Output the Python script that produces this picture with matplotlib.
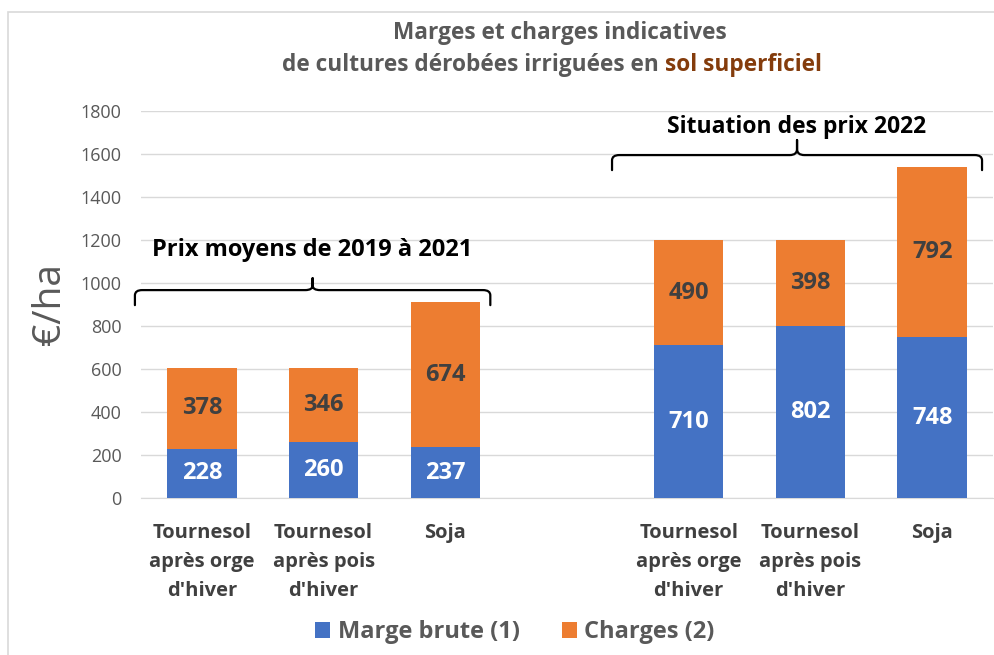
import matplotlib
matplotlib.use("Agg")
import matplotlib.pyplot as plt
from matplotlib.patches import Rectangle, PathPatch
from matplotlib.path import Path
import numpy as np

plt.rcParams['font.family'] = ['Open Sans', 'DejaVu Sans']

categories = ["Tournesol\naprès orge\nd'hiver", "Tournesol\naprès pois\nd'hiver", "Soja", "",
              "Tournesol\naprès orge\nd'hiver", "Tournesol\naprès pois\nd'hiver", "Soja"]
marge_brute = [228, 260, 237, None, 710, 802, 748]
charges = [378, 346, 674, None, 490, 398, 792]
series_names = ["Marge brute (1)", "Charges (2)"]
y_ticks = [0, 200, 400, 600, 800, 1000, 1200, 1400, 1600, 1800]
group_labels = ["Prix moyens de 2019 à 2021", "Situation des prix 2022"]

BLUE = "#4472C4"
ORANGE = "#ED7D31"
GRAY = "#595959"
DARK = "#404040"

W, H = 995, 655
fig = plt.figure(figsize=(W / 100, H / 100), dpi=100)

def fx(px):
    return px / W

def fy(py):
    return 1 - py / H

# chart border
fig.patches.append(Rectangle((fx(8), fy(700)), fx(1100), fy(12) - fy(700),
                             transform=fig.transFigure, fill=False,
                             edgecolor="#D9D9D9", linewidth=1.2))

ax = fig.add_axes([fx(141), fy(498), fx(993) - fx(141), fy(111) - fy(498)])

x = np.arange(len(categories))
idx = [i for i, v in enumerate(marge_brute) if v is not None]
mb = np.array([marge_brute[i] for i in idx])
ch = np.array([charges[i] for i in idx])
xi = x[idx]
bw = 0.57
b1 = ax.bar(xi, mb, bw, color=BLUE, label=series_names[0], zorder=3)
b2 = ax.bar(xi, ch, bw, bottom=mb, color=ORANGE, label=series_names[1], zorder=3)

for xx, m, c in zip(xi, mb, ch):
    ax.text(xx, m / 2, f"{m}", ha="center", va="center", color="white",
            fontsize=17, fontweight="bold", zorder=4)
    ax.text(xx, m + c / 2, f"{c}", ha="center", va="center", color=DARK,
            fontsize=17, fontweight="bold", zorder=4)

ax.set_xlim(-0.5, len(categories) - 0.5)
ax.set_ylim(0, 1800)
ax.set_yticks(y_ticks)
ax.set_yticklabels([str(t) for t in y_ticks], color=GRAY, fontsize=13)
ax.yaxis.grid(True, color="#D9D9D9", linewidth=1, zorder=0)
ax.set_axisbelow(True)
for s in ax.spines.values():
    s.set_visible(False)
ax.spines['bottom'].set_visible(True)
ax.spines['bottom'].set_color("#D9D9D9")
ax.tick_params(axis="both", length=0)
ax.tick_params(axis="y", pad=14)
ax.set_xticks(x)
ax.set_xticklabels(categories, color=DARK, fontsize=14.5, fontweight="bold",
                   linespacing=1.6)
ax.tick_params(axis="x", pad=18)

ax.set_ylabel("€/ha", fontsize=28, color=GRAY, labelpad=8)

# braces (data coords)
def brace(ax, x0, x1, y, drop, up):
    xm = (x0 + x1) / 2
    r = 0.06
    ry = drop * 0.35
    verts = [
        (x0, y - drop),
        (x0, y - ry), (x0, y), (x0 + r, y),
        (xm - r, y),
        (xm, y), (xm, y + up * 0.4),
        (xm, y + up),
        (xm, y + up * 0.4), (xm, y), (xm + r, y),
        (x1 - r, y),
        (x1, y), (x1, y - ry),
        (x1, y - drop),
    ]
    codes = [Path.MOVETO,
             Path.LINETO, Path.CURVE3, Path.CURVE3,
             Path.LINETO,
             Path.CURVE3, Path.CURVE3,
             Path.LINETO,
             Path.LINETO, Path.CURVE3, Path.CURVE3,
             Path.LINETO,
             Path.CURVE3, Path.CURVE3,
             Path.LINETO]
    ax.add_patch(PathPatch(Path(verts, codes), fill=False, edgecolor="black",
                           linewidth=1.6, clip_on=False, zorder=5,
                           capstyle="round", joinstyle="round"))

brace(ax, -0.55, 2.37, 967, 70, 55)
brace(ax, 3.37, 6.41, 1595, 70, 70)
ax.text(0.91, 1153, group_labels[0], ha="center", va="center", fontsize=17,
        fontweight="bold", color="black", zorder=5)
ax.text(4.89, 1725, group_labels[1], ha="center", va="center", fontsize=16.5,
        fontweight="bold", color="black", zorder=5)

# title
fig.text(fx(560), fy(33), "Marges et charges indicatives", ha="center", va="center",
         fontsize=16.3, fontweight="bold", color=GRAY)
t1 = fig.text(fx(282), fy(65), "de cultures dérobées irriguées en ", ha="left", va="center",
              fontsize=16.3, fontweight="bold", color=GRAY)
fig.canvas.draw()
bb = t1.get_window_extent()
fig.text(bb.x1 / W, fy(65), "sol superficiel", ha="left", va="center",
         fontsize=16.3, fontweight="bold", color="#843C0C")

leg = fig.legend(handles=[b1, b2], loc="center", bbox_to_anchor=(fx(515), fy(632)),
                 ncol=2, frameon=False, fontsize=17, handlelength=0.65, handleheight=0.65,
                 handletextpad=0.3, columnspacing=1.8)
for t in leg.get_texts():
    t.set_color(GRAY)
    t.set_fontweight("bold")

fig.savefig("out.png", dpi=100)
